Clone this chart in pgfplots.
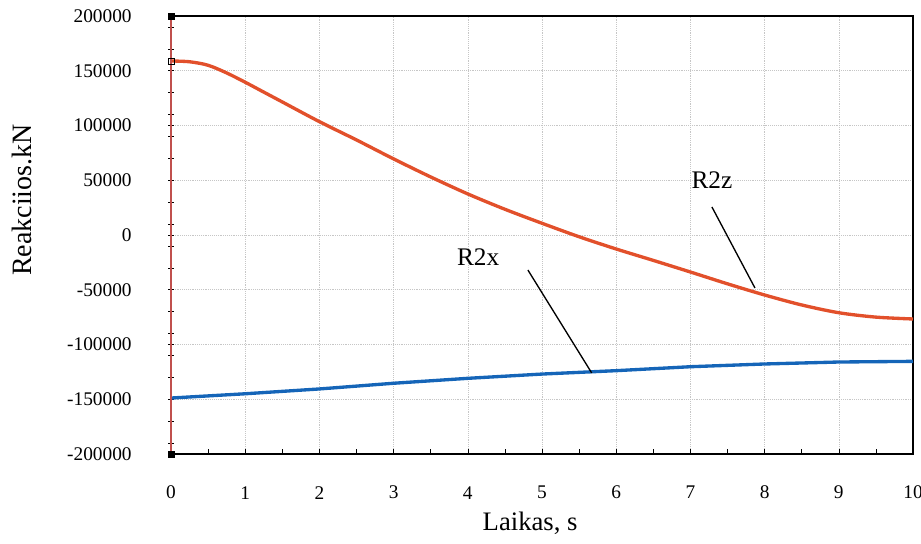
\documentclass[border=0pt]{standalone}
\usepackage{pgfplots}
\pgfplotsset{compat=1.18}
\usepackage{fontspec}
\setmainfont{Liberation Serif}
\definecolor{rzred}{HTML}{E2502B}
\definecolor{rxblue}{HTML}{1565B8}
\definecolor{axred}{HTML}{C0504D}

\begin{document}
\begin{tikzpicture}
  \begin{axis}[
    scale only axis,
    width=556.5pt, height=328.5pt,
    xmin=0, xmax=10,
    ymin=-200000, ymax=200000,
    xtick={0,1,...,10},
    xticklabels={0,1,2,3,4,5,6,7,8,9,10},
    minor xtick={0.5,1.5,...,9.5},
    ytick={-200000,-150000,...,200000},
    yticklabels={-200000,-150000,-100000,-50000,0,50000,100000,150000,200000},
    minor ytick={-190000,-170000,...,190000},
    scaled y ticks=false,
    tick label style={font=\fontsize{14.5}{16}\selectfont},
    xtick pos=bottom, ytick pos=left,
    x tick style={black, thin}, y tick style={black, thin},
    xtick align=inside, ytick align=center,
    major tick length=4pt, minor tick length=4pt,
    xticklabel style={anchor=center, yshift=-29pt},
    yticklabel style={xshift=-24pt},
    grid=major,
    grid style={densely dotted, gray!45},
    axis line style={black, line width=0.8pt},
    xlabel={Laikas, s},
    ylabel={Reakciios.kN},
    x label style={at={([yshift=-52pt]rel axis cs:0.484,0)}, anchor=center, font=\fontsize{20}{22}\selectfont},
    y label style={at={([xshift=-112pt]rel axis cs:0,0.58)}, anchor=center, font=\fontsize{21}{23}\selectfont},
    clip=false,
  ]
    \coordinate (ll) at (rel axis cs:0,0);
    \coordinate (ur) at (rel axis cs:1,1);

    % R2z
    \addplot[rzred, line width=2.5pt, smooth] coordinates {
      (0,158900) (0.25,158200) (0.5,155000) (0.75,148000) (1,139500)
      (1.25,130500) (1.5,121500) (2,103500) (2.5,86800) (3,69500)
      (3.5,53000) (4,37500) (4.5,23500) (5,10700) (5.5,-1600)
      (6,-12800) (6.5,-23200) (7,-33800) (7.5,-44600) (8,-54800)
      (8.5,-63900) (9,-71000) (9.5,-75000) (10,-76700)
    };

    % R2x
    \addplot[rxblue, line width=2.5pt] coordinates {
      (0,-148900) (1,-145000) (2,-140600) (3,-135400) (4,-130900)
      (5,-127000) (6,-123900) (7,-120300) (8,-117800) (9,-116000)
      (10,-115400)
    };

    \draw[axred, line width=0.9pt] (rel axis cs:0,0) -- (rel axis cs:0,1);

    % markers on the left axis
    \addplot[only marks, mark=square*, mark size=2.2pt, black] coordinates {(0,200000) (0,-200000)};
    \addplot[only marks, mark=square, mark size=2.2pt, black, thin] coordinates {(0,158900)};

    % annotations
    \node[font=\fontsize{19}{21}\selectfont] at (axis cs:7.29,50200) {R2z};
    \draw[black, line width=1pt] (axis cs:7.29,25600) -- (axis cs:7.87,-48400);
    \node[font=\fontsize{19}{21}\selectfont] at (axis cs:4.14,-20100) {R2x};
    \draw[black, line width=1pt] (axis cs:4.81,-32000) -- (axis cs:5.67,-126000);
  \end{axis}
  \pgfresetboundingbox
  \path ([xshift=-128.25pt,yshift=-67.5pt]ll) rectangle ([xshift=6pt,yshift=12pt]ur);
\end{tikzpicture}
\end{document}
